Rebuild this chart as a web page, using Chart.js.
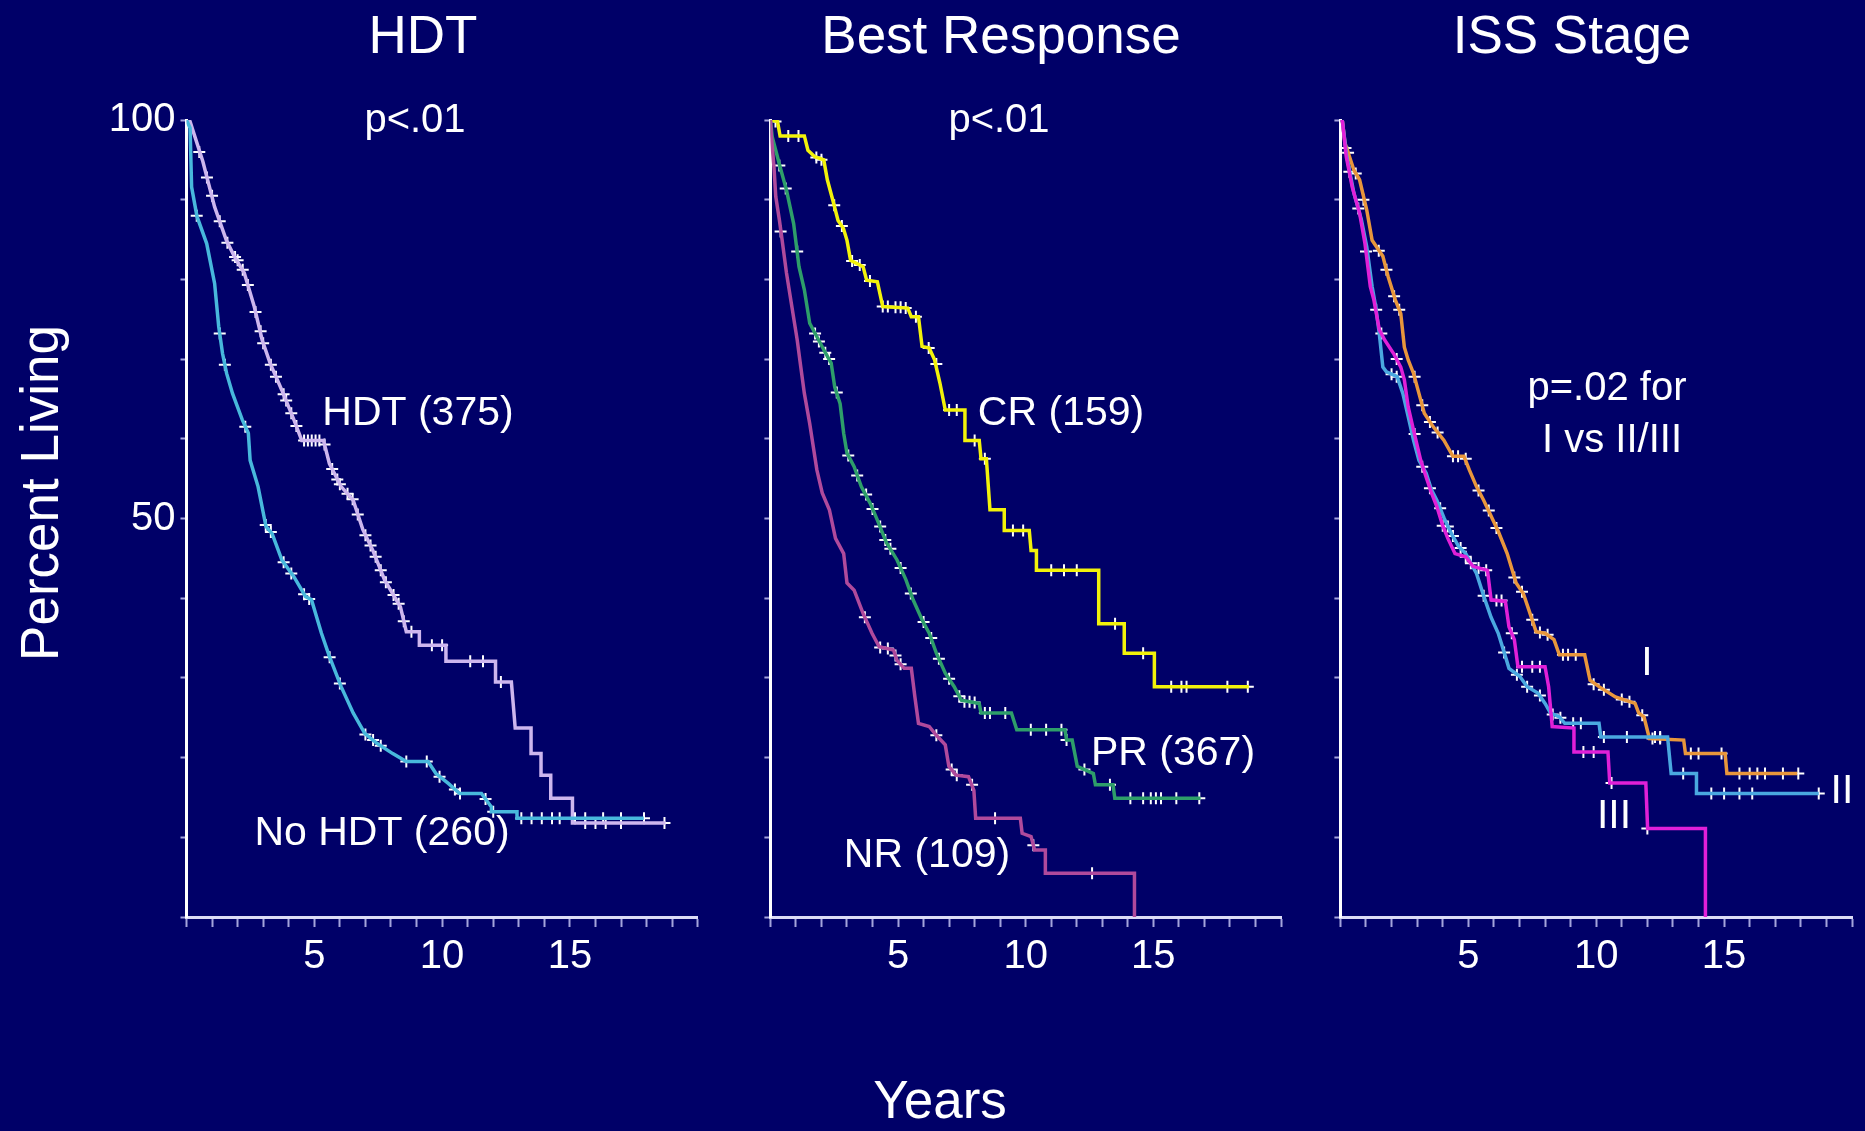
<!DOCTYPE html>
<html>
<head>
<meta charset="utf-8">
<title>Survival by HDT, response and ISS stage</title>
<script src="https://cdn.jsdelivr.net/npm/chart.js@4.4.1/dist/chart.umd.min.js"></script>
<style>
  html, body { margin: 0; padding: 0; background: #000068; }
  #wrap { position: relative; width: 1865px; height: 1131px; overflow: hidden; background: #000068; }
  #wrap canvas { position: absolute; left: 0; top: 0; }
</style>
</head>
<body>
<div id="wrap">
  <canvas id="hdt-chart" width="1865" height="1131"></canvas>
  <canvas id="resp-chart" width="1865" height="1131"></canvas>
  <canvas id="iss-chart" width="1865" height="1131"></canvas>
</div>
<script>
// ---- data: [years, percent living] ----
const hdtCurve = [[0,100],[0.14,99.8],[0.64,94.8],[1.10,89.1],[1.56,84.9],[1.87,82.9],[2.26,80.8],[2.65,76.6],[2.96,72.4],[3.27,69.5],[3.73,66.1],[4.20,62.4],[4.51,59.8],[5.36,59.8],[5.59,56.9],[6.05,54.0],[6.52,52.3],[6.90,48.6],[7.29,46.0],[7.75,42.3],[8.37,38.9],[8.60,35.8],[9.11,35.8],[9.11,34.1],[10.15,34.1],[10.15,32.1],[12.09,32.1],[12.09,29.5],[12.71,29.5],[12.78,26.8],[12.86,23.7],[13.48,23.7],[13.48,20.5],[13.87,20.5],[13.87,17.8],[14.25,17.8],[14.25,14.9],[15.10,14.9],[15.10,11.8],[18.74,11.8]];
const noHdtCurve = [[0,100],[0.14,99],[0.2,91.6],[0.41,87.9],[0.79,84.5],[1.10,79.5],[1.26,74.1],[1.41,70.7],[1.57,68.2],[1.80,65.7],[2.18,62.4],[2.42,60.7],[2.49,57.3],[2.80,54.0],[3.11,49.0],[3.35,48.1],[3.73,44.8],[4.20,42.7],[4.66,40.2],[4.89,39.8],[5.28,35.6],[5.59,32.7],[6.05,28.9],[6.52,25.6],[6.98,23.0],[7.45,21.8],[8.07,20.5],[8.60,19.5],[9.45,19.5],[9.76,18.0],[10.23,16.8],[10.69,15.5],[11.54,15.5],[11.93,13.8],[11.93,13.2],[12.93,13.2],[12.93,12.4],[17.89,12.4]];
const hdtCensored = [[0.5,96],[0.8,92.8],[1.0,90.5],[1.3,87.3],[1.6,84.6],[1.9,82.8],[2.0,82.4],[2.2,81.2],[2.4,79.3],[2.7,75.9],[2.9,73.5],[3.0,72.0],[3.3,69.3],[3.5,67.8],[3.8,65.6],[3.9,64.8],[4.1,63.2],[4.3,61.6],[4.6,59.8],[4.75,59.8],[4.9,59.8],[5.05,59.8],[5.2,59.8],[5.4,59.3],[5.7,56.2],[5.9,54.9],[6.0,54.3],[6.3,53.1],[6.5,52.4],[6.7,50.5],[7.0,47.9],[7.2,46.6],[7.4,45.2],[7.6,43.5],[7.8,42.0],[8.1,40.4],[8.3,39.3],[8.5,37.1],[8.8,35.8],[9.6,34.1],[10.0,34.1],[11.1,32.1],[11.6,32.1],[12.3,29.5],[15.6,11.8],[16.0,11.8],[16.4,11.8],[17.0,11.8],[18.7,11.8]];
const noHdtCensored = [[0.4,88],[1.3,73.2],[1.5,69.3],[2.3,61.5],[3.1,49.2],[3.3,48.3],[3.8,44.5],[4.1,43.1],[4.6,40.5],[4.8,39.9],[5.6,32.6],[6.0,29.3],[7.0,22.9],[7.3,22.2],[7.6,21.5],[8.6,19.5],[9.4,19.5],[9.9,17.6],[10.5,16.0],[10.7,15.5],[11.7,14.8],[12.0,13.2],[13.1,12.4],[13.5,12.4],[13.9,12.4],[14.3,12.4],[14.6,12.4],[15.2,12.4],[15.6,12.4],[16.3,12.4],[17.0,12.4],[17.9,12.4]];

const crCurve = [[0,100],[0.28,99.8],[0.38,98.0],[1.33,98.0],[1.47,96.2],[1.74,95.4],[2.09,95.0],[2.23,92.5],[2.44,90.0],[2.65,87.4],[2.86,86.4],[3.0,84.9],[3.14,82.4],[3.63,81.6],[3.77,79.9],[4.19,79.7],[4.40,76.6],[5.38,76.4],[5.52,75.3],[5.80,75.3],[5.94,71.6],[6.22,71.4],[6.43,69.9],[6.64,67.0],[6.85,63.6],[7.62,63.6],[7.62,59.8],[8.18,59.8],[8.25,57.5],[8.46,57.5],[8.60,51.1],[9.16,51.1],[9.16,48.5],[10.14,48.5],[10.21,46.0],[10.42,46.0],[10.42,43.5],[12.86,43.5],[12.86,36.8],[13.86,36.8],[13.86,33.1],[15.04,33.1],[15.04,28.9],[18.74,28.9]];
const prCurve = [[0,100],[0.07,97.9],[0.38,94.1],[0.63,91.2],[0.91,87.0],[1.12,81.6],[1.33,78.7],[1.54,74.5],[1.82,72.8],[2.17,70.7],[2.38,69.5],[2.52,66.5],[2.73,64.4],[2.87,60.7],[3.0,58.2],[3.28,56.5],[3.56,54.0],[3.91,51.9],[4.19,49.8],[4.54,47.0],[4.96,44.8],[5.31,42.3],[5.59,39.8],[5.94,37.3],[6.22,35.6],[6.5,33.1],[6.85,30.6],[7.2,28.9],[7.48,27.2],[8.18,26.8],[8.25,25.6],[9.44,25.6],[9.65,23.5],[11.54,23.5],[11.6,22.2],[11.82,22.2],[12.02,18.9],[12.65,18.0],[12.73,16.6],[13.42,16.6],[13.49,14.9],[16.85,14.9]];
const nrCurve = [[0,100],[0.04,97.9],[0.14,94.1],[0.21,90.4],[0.35,87.5],[0.46,84.9],[0.63,80.8],[0.84,76.6],[1.05,72.4],[1.19,69.0],[1.33,65.7],[1.54,61.9],[1.68,59.0],[1.82,56.1],[2.03,53.2],[2.31,51.1],[2.55,47.5],[2.87,45.6],[3.0,41.9],[3.28,41.0],[3.63,38.1],[3.98,35.6],[4.26,33.9],[4.82,33.5],[4.96,32.2],[5.24,31.2],[5.52,31.2],[5.66,27.6],[5.80,24.3],[6.22,23.9],[6.5,22.8],[6.85,21.6],[6.99,18.9],[7.27,17.8],[7.76,17.6],[7.97,15.9],[8.04,12.4],[9.79,12.4],[9.86,10.5],[10.21,10.1],[10.35,8.4],[10.77,8.4],[10.77,5.5],[14.26,5.5],[14.26,0]];
const crCensored = [[0.2,99.8],[0.7,98],[1.1,98],[1.8,95.3],[2.0,95.0],[2.5,89.3],[2.8,86.7],[3.2,82.3],[3.5,81.8],[3.9,79.8],[4.4,76.6],[4.6,76.6],[4.9,76.5],[5.1,76.5],[5.3,76.4],[5.7,75.3],[6.2,71.4],[6.5,69.4],[7.0,63.6],[7.3,63.6],[8.0,59.8],[8.4,57.5],[9.5,48.5],[9.9,48.5],[11.0,43.5],[11.5,43.5],[12.0,43.5],[13.5,36.8],[14.6,33.1],[15.7,28.9],[16.1,28.9],[16.3,28.9],[17.9,28.9],[18.7,28.9]];
const prCensored = [[0.35,94.3],[0.6,91.4],[1.05,83.5],[1.75,73.2],[1.9,72.2],[2.15,70.8],[2.3,70],[2.6,65.8],[3.05,57.9],[3.4,55.4],[3.75,53],[4.0,51.2],[4.3,49],[4.5,47.3],[4.7,46.2],[5.1,43.8],[5.5,40.6],[6.0,37],[6.3,35],[6.6,32.4],[7.0,29.9],[7.4,27.7],[7.6,27.0],[7.8,27.0],[8.0,26.9],[8.4,25.6],[8.6,25.6],[9.2,25.6],[10.2,23.5],[10.8,23.5],[11.4,23.5],[11.6,22.2],[12.3,18.5],[13.3,16.6],[14.1,14.9],[14.6,14.9],[14.9,14.9],[15.1,14.9],[15.3,14.9],[15.9,14.9],[16.8,14.9]];
const nrCensored = [[0.4,86],[3.7,37.6],[4.3,33.8],[4.6,33.7],[4.9,32.8],[5.1,31.7],[6.5,22.8],[7.1,18.5],[7.3,17.8],[7.9,16.6],[8.8,12.4],[10.3,9.0],[12.6,5.5]];

const stage1Curve = [[0,100],[0.08,99.8],[0.18,97.1],[0.53,93.7],[0.75,92.5],[1.03,88.7],[1.24,84.9],[1.66,82.9],[1.87,80.3],[2.15,77.4],[2.36,75.7],[2.5,71.5],[2.65,69.9],[2.86,68.2],[3.07,65.7],[3.28,63.2],[3.63,61.5],[4.05,59.8],[4.40,57.8],[4.83,57.8],[5.04,56.1],[5.32,54.0],[5.6,52.3],[6.17,48.4],[6.52,45.6],[6.87,41.9],[7.15,40.6],[7.37,38.5],[7.65,35.8],[8.0,35.6],[8.35,34.8],[8.56,32.9],[9.55,32.9],[9.76,29.7],[10.11,28.9],[10.75,27.6],[11.52,26.8],[11.66,25.6],[11.87,25.1],[12.08,22.4],[13.42,22.2],[13.49,20.5],[15.04,20.5],[15.11,18.0],[17.86,18.0]];
const stage2Curve = [[0,100],[0.08,99.8],[0.25,95.4],[0.53,90.8],[0.82,87.5],[1.03,84.1],[1.24,79.1],[1.38,76.6],[1.52,73.2],[1.66,69.0],[1.80,68.4],[2.22,67.8],[2.44,65.7],[2.65,62.8],[2.86,59.8],[3.07,57.3],[3.35,55.7],[3.56,53.6],[3.77,52.3],[4.06,50.0],[4.34,48.1],[4.62,46.5],[4.9,45.6],[5.32,43.1],[5.61,40.2],[5.89,37.6],[6.17,35.6],[6.45,32.7],[6.59,31.2],[7.01,30.2],[7.3,28.9],[7.72,28.1],[8.0,26.8],[8.21,25.6],[8.56,25.1],[8.77,24.3],[10.11,24.3],[10.18,22.6],[12.79,22.6],[12.93,18.0],[13.92,18.0],[13.92,15.5],[18.7,15.5]];
const stage3Curve = [[0,100],[0.08,99.8],[0.23,95.4],[0.46,91.6],[0.75,88.3],[0.96,84.5],[1.17,79.1],[1.31,77.4],[1.52,73.7],[1.73,72.4],[2.08,70.7],[2.36,69.0],[2.5,67.4],[2.65,64.0],[2.86,61.1],[3.14,57.3],[3.35,55.2],[3.56,53.2],[3.77,51.5],[3.99,49.2],[4.2,47.5],[4.48,45.6],[4.9,45.2],[5.18,44.0],[5.75,43.5],[5.89,39.8],[6.45,39.6],[6.59,36.4],[6.80,34.8],[6.94,31.4],[8.0,31.4],[8.14,28.9],[8.28,23.9],[9.13,23.7],[9.13,20.7],[10.46,20.7],[10.53,16.8],[11.94,16.8],[12.01,11.1],[14.27,11.1],[14.27,0]];
const stage1Censored = [[0.3,95.9],[0.6,93.3],[0.9,90],[1.5,83.6],[1.8,81.2],[2.1,77.9],[2.3,76.2],[2.9,67.8],[3.2,64.2],[3.5,62.1],[3.8,60.8],[4.4,57.8],[4.6,57.8],[4.9,57.5],[5.4,53.5],[5.8,51],[6.1,48.8],[6.8,42.6],[7.1,40.8],[7.5,37.3],[7.8,35.7],[8.1,35.4],[8.7,32.9],[8.9,32.9],[9.2,32.9],[9.9,29.2],[10.3,28.5],[11.0,27.3],[11.3,27],[11.8,25.3],[12.2,22.4],[12.5,22.4],[13.7,20.5],[14.0,20.5],[14.9,20.5],[15.6,18.0],[16.0,18.0],[16.3,18.0],[16.6,18.0],[17.3,18.0],[17.9,18.0]];
const stage2Censored = [[0.2,96.5],[0.7,88.9],[1.4,76.2],[2.0,68.1],[2.2,67.8],[3.2,56.5],[3.9,51.3],[4.2,49],[4.4,47.8],[4.7,46.3],[5.1,44.4],[5.6,40.3],[6.4,33.2],[6.9,30.4],[7.3,28.9],[7.8,27.8],[8.3,25.4],[8.6,25],[9.1,24.3],[9.4,24.3],[10.3,22.6],[11.2,22.6],[12.3,22.6],[12.5,22.6],[13.4,18.0],[14.5,15.5],[15.0,15.5],[15.6,15.5],[16.1,15.5],[18.7,15.5]];
const stage3Censored = [[0.35,93.5],[1.0,83.5],[1.6,73.2],[2.2,70],[2.9,60.6],[3.5,53.8],[4.0,49.1],[4.9,45.2],[5.4,43.8],[5.7,43.5],[6.1,39.7],[6.3,39.7],[6.7,35.6],[7.1,31.4],[7.5,31.4],[7.8,31.4],[9.5,20.7],[9.9,20.7],[10.6,16.8],[12.0,11.1]];

const xTickLabels = [5, 10, 15];
const yTickLabels = [100, 50];

// ---- look ----
const FONT = '"Liberation Sans", Arial, Helvetica, sans-serif';

function toPoints(pairs) {
    return pairs.map(p => ({ x: p[0], y: p[1] }));
}

function curveSet(pairs, color) {
    return {
        data: toPoints(pairs),
        borderColor: color,
        borderWidth: 3.5,
        pointRadius: 0,
        tension: 0,
        fill: false
    };
}

function censorSet(pairs) {
    return {
        data: toPoints(pairs),
        showLine: false,
        pointStyle: 'cross',
        pointRadius: 6,
        pointBorderColor: '#ffffff',
        pointBackgroundColor: '#ffffff',
        pointBorderWidth: 2
    };
}

function textPlugin(texts) {
    return {
        id: 'panelTexts',
        afterDraw(chart) {
            const ctx = chart.ctx;
            ctx.save();
            ctx.fillStyle = '#ffffff';
            ctx.textAlign = 'center';
            ctx.textBaseline = 'alphabetic';
            texts.forEach(t => {
                ctx.font = `${t.size}px ${FONT}`;
                if (t.rotate) {
                    ctx.save();
                    ctx.translate(t.x, t.y);
                    ctx.rotate(-Math.PI / 2);
                    ctx.fillText(t.text, 0, 0);
                    ctx.restore();
                } else {
                    ctx.fillText(t.text, t.x, t.y);
                }
            });
            ctx.restore();
        }
    };
}

function makePanel(id, cfg) {
    return new Chart(document.getElementById(id), {
        type: 'line',
        data: { datasets: cfg.datasets },
        options: {
            responsive: false,
            animation: false,
            events: [],
            layout: { padding: { left: cfg.left - cfg.yAxisWidth, right: 1865 - cfg.right, top: 120, bottom: 154 } },
            plugins: { legend: { display: false }, tooltip: { enabled: false } },
            scales: {
                x: {
                    type: 'linear', min: 0, max: 20,
                    afterFit: s => { s.height = 60; },
                    ticks: {
                        stepSize: 1, autoSkip: false, maxRotation: 0, minRotation: 0,
                        color: '#ffffff', padding: 6,
                        font: { family: FONT, size: 40 },
                        callback: v => xTickLabels.includes(v) ? String(v) : ''
                    },
                    grid: { drawOnChartArea: false, drawTicks: true, tickLength: 10, tickColor: '#a4a4dc', tickWidth: 2 },
                    border: { display: true, color: '#dcdcf6', width: 3 }
                },
                y: {
                    type: 'linear', min: 0, max: 100,
                    afterFit: s => { s.width = cfg.yAxisWidth; },
                    ticks: {
                        stepSize: 10, color: '#ffffff', padding: 5,
                        font: { family: FONT, size: 40 },
                        callback: v => cfg.yLabels && yTickLabels.includes(v) ? String(v) : ''
                    },
                    grid: { drawOnChartArea: false, drawTicks: true, tickLength: 6, tickColor: '#a4a4dc', tickWidth: 2 },
                    border: { display: true, color: '#ffffff', width: 3 }
                }
            }
        },
        plugins: [textPlugin(cfg.texts)]
    });
}

makePanel('hdt-chart', {
    left: 186.5, right: 697.7, yAxisWidth: 186.5, yLabels: true,
    datasets: [
        curveSet(noHdtCurve, '#48b8dc'),
        curveSet(hdtCurve, '#cdb6ee'),
        censorSet(noHdtCensored),
        censorSet(hdtCensored)
    ],
    texts: [
        { text: 'HDT', x: 423, y: 53, size: 53 },
        { text: 'p<.01', x: 415, y: 132, size: 40 },
        { text: 'HDT (375)', x: 418, y: 425, size: 41 },
        { text: 'No HDT (260)', x: 382, y: 845, size: 41 },
        { text: 'Percent Living', x: 58, y: 493, size: 53, rotate: true },
        { text: 'Years', x: 940, y: 1118, size: 53 }
    ]
});

makePanel('resp-chart', {
    left: 770.4, right: 1281, yAxisWidth: 60, yLabels: false,
    datasets: [
        curveSet(nrCurve, '#b04a9c'),
        curveSet(prCurve, '#2e9e6a'),
        curveSet(crCurve, '#f2f20a'),
        censorSet(nrCensored),
        censorSet(prCensored),
        censorSet(crCensored)
    ],
    texts: [
        { text: 'Best Response', x: 1001, y: 53, size: 53 },
        { text: 'p<.01', x: 999, y: 132, size: 40 },
        { text: 'CR (159)', x: 1061, y: 425, size: 41 },
        { text: 'PR (367)', x: 1173, y: 765, size: 41 },
        { text: 'NR (109)', x: 927, y: 867, size: 41 }
    ]
});

makePanel('iss-chart', {
    left: 1340.4, right: 1852, yAxisWidth: 60, yLabels: false,
    datasets: [
        curveSet(stage3Curve, '#e020d8'),
        curveSet(stage2Curve, '#4aa8e0'),
        curveSet(stage1Curve, '#e8963c'),
        censorSet(stage3Censored),
        censorSet(stage2Censored),
        censorSet(stage1Censored)
    ],
    texts: [
        { text: 'ISS Stage', x: 1572, y: 53, size: 53 },
        { text: 'p=.02 for', x: 1607, y: 400, size: 40 },
        { text: 'I vs II/III', x: 1612, y: 452, size: 40 },
        { text: 'I', x: 1647, y: 675, size: 41 },
        { text: 'II', x: 1842, y: 803, size: 41 },
        { text: 'III', x: 1614, y: 828, size: 41 }
    ]
});
</script>
</body>
</html>
